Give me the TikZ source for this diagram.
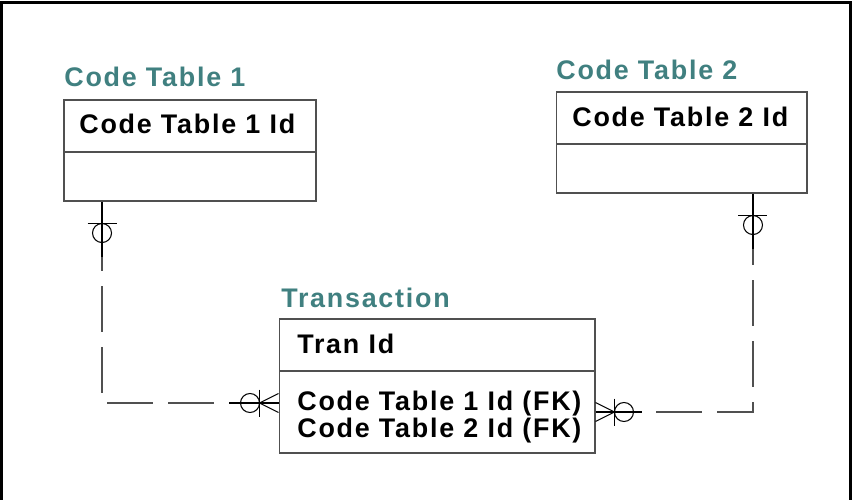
\documentclass[tikz,border=0pt]{standalone}
\usepackage{fontspec}
\newfontfamily\erfont{Liberation Sans}[LetterSpace=6.5]
\usepackage{tikz}
\usetikzlibrary{positioning}
\definecolor{titleteal}{RGB}{64,128,128}
\definecolor{linegray}{RGB}{80,80,80}

\begin{document}
\begin{tikzpicture}[x=0.02cm, y=-0.02cm,
                    tblbox/.style={rectangle, draw = linegray, line width = 0.6pt, inner sep = 0pt},
                    tbltitle/.style={anchor = base west, inner sep = 0pt, text = titleteal,
                    font = {\erfont\bfseries\fontsize{15.3}{18}\selectfont}},
                    fieldtxt/.style={anchor = base west, inner sep = 0pt,
                    font = {\erfont\bfseries\fontsize{15.3}{18}\selectfont}},
                    relline/.style={draw = linegray, line width = 0.6pt, dash pattern = on 0.92cm off 0.3cm},
                    relsym/.style={draw = black, line width = 0.6pt}]

                    \useasboundingbox (0,0) rectangle (852,500);
                    \draw[line width = 1.4pt] (1.5,500) -- (1.5,2.5) -- (850.5,2.5) -- (850.5,500);

                    % tables
                    \node[tblbox, minimum width = 5.04cm, minimum height = 1.04cm] (ct1head) at (190,126) {};
                    \node[tblbox, minimum width = 5.04cm, minimum height = 0.98cm] (ct1body) at (190,176.5) {};
                    \node[tbltitle] (ct1title) at (64,87) {Code Table 1};
                    \node[fieldtxt] (ct1key) at (79,133) {Code Table 1 Id};

                    \node[tblbox, minimum width = 5.02cm, minimum height = 1.04cm] (ct2head) at (681.5,118) {};
                    \node[tblbox, minimum width = 5.02cm, minimum height = 0.98cm] (ct2body) at (681.5,168.5) {};
                    \node[tbltitle] (ct2title) at (556,80) {Code Table 2};
                    \node[fieldtxt] (ct2key) at (572,127) {Code Table 2 Id};

                    \node[tblbox, minimum width = 6.32cm, minimum height = 1.04cm] (tranhead) at (437,345) {};
                    \node[tblbox, minimum width = 6.32cm, minimum height = 1.64cm] (tranbody) at (437,412) {};
                    \node[tbltitle] (trantitle) at (281,307) {Transaction};
                    \node[fieldtxt] (tranid) at (297,353) {Tran Id};
                    \node[fieldtxt] (tranfk1) at (297,410) {Code Table 1 Id (FK)};
                    \node[fieldtxt] (tranfk2) at (297,437) {Code Table 2 Id (FK)};

                    % relationships
                    \coordinate (ct1foot) at ([xshift=-1.76cm]ct1body.south);
                    \coordinate (ct2foot) at ([xshift=1.43cm]ct2body.south);
                    \coordinate (tranin1) at ([yshift=0.18cm]tranbody.west);
                    \draw[relline, dash phase = 1.14cm] (tranin1) -| (ct1foot);
                    \draw[relline] (tranbody.east) -| (ct2foot);

                    \draw[relsym] (ct1foot) -- ++(0,55);
                    \draw[relsym] ([shift={(-14.5,22)}]ct1foot) -- ++(29,0);
                    \draw[relsym] ([shift={(0,31.5)}]ct1foot) circle[radius=9.5];

                    \draw[relsym] (ct2foot) -- ++(0,55);
                    \draw[relsym] ([shift={(-14.5,22)}]ct2foot) -- ++(29,0);
                    \draw[relsym] ([shift={(0,31.5)}]ct2foot) circle[radius=9.5];

                    \draw[relsym] (tranin1) -- ++(-50,0);
                    \draw[relsym] ([shift={(0,-9.5)}]tranin1) -- ++(-19,9.5) -- ++(19,9.5);
                    \draw[relsym] ([shift={(-19,-13.5)}]tranin1) -- ++(0,27);
                    \draw[relsym] ([shift={(-28.5,0)}]tranin1) circle[radius=9.5];

                    \draw[relsym] (tranbody.east) -- ++(46,0);
                    \draw[relsym] ([shift={(0,-9.5)}]tranbody.east) -- ++(19,9.5) -- ++(-19,9.5);
                    \draw[relsym] ([shift={(19,-13.5)}]tranbody.east) -- ++(0,27);
                    \draw[relsym] ([shift={(28.5,0)}]tranbody.east) circle[radius=9.5];
\end{tikzpicture}
\end{document}
